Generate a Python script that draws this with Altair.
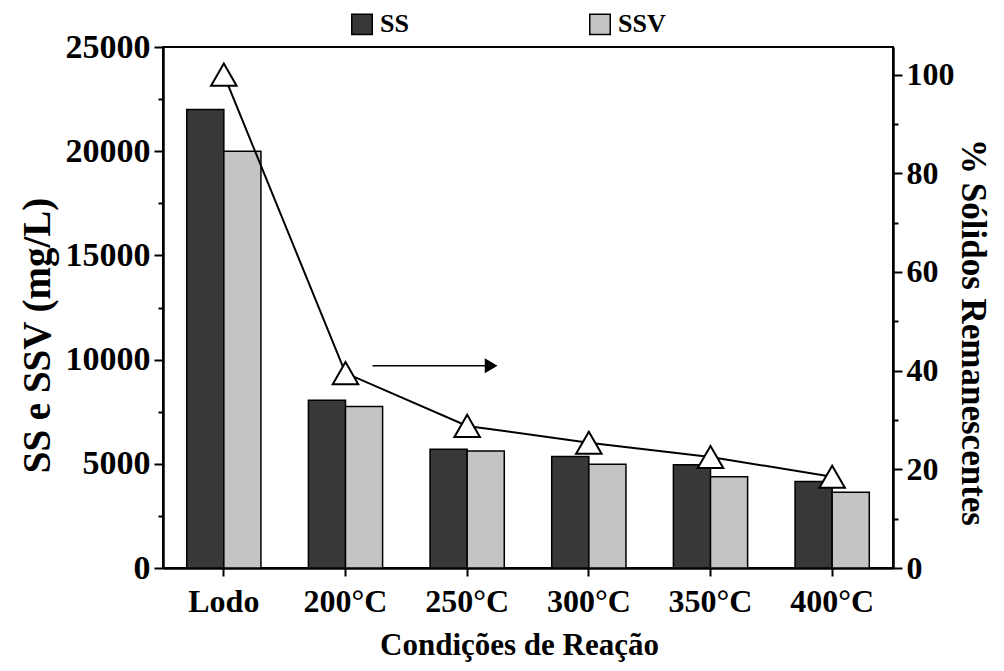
import altair as alt
import pandas as pd

# ---- data ----
categorias = ["Lodo", "200°C", "250°C", "300°C", "350°C", "400°C"]
series = ["SS", "SSV"]
ss = [22000, 8050, 5700, 5350, 4950, 4150]
ssv = [20000, 7750, 5620, 4980, 4380, 3640]
pct = [100, 39.5, 28.8, 25.4, 22.5, 18.5]
seta_ini = ["200°C"]
seta_fim = ["250°C"]
seta_nivel = [41]

bars_df = pd.DataFrame({
    "Condição": categorias * 2,
    "Série": [series[0]] * len(categorias) + [series[1]] * len(categorias),
    "Valor": ss + ssv,
})
line_df = pd.DataFrame({"Condição": categorias, "Pct": pct})
arrow_df = pd.DataFrame({"ini": seta_ini, "fim": seta_fim, "nivel": seta_nivel})

FONT = "Liberation Serif"

x_scale = alt.Scale(domain=categorias, paddingInner=0.39, paddingOuter=0.195)
x_axis = alt.Axis(
    title="Condições de Reação", labelAngle=0, tickSize=8, labelPadding=10,
    labelFontSize=32, titleFontSize=31, titleX=356, titleY=77,
    titleAlign="center", titleBaseline="middle", grid=False,
)

left_axis = alt.Axis(
    orient="left", values=list(range(0, 25001, 2500)),
    labelExpr="datum.value % 5000 === 0 ? datum.label : ''",
    format="d",
    tickSize={"condition": {"test": "datum.value % 5000 === 0", "value": 9}, "value": 5},
    labelPadding=4, labelFontSize=34,
    title="SS e SSV (mg/L)", titleFontSize=39, titleAngle=270,
    titleX=-126, titleY=288, titleAlign="center", titleBaseline="middle",
    grid=False,
)

right_axis = alt.Axis(
    orient="right", values=list(range(0, 101, 10)),
    labelExpr="datum.value % 20 === 0 ? datum.label : ''",
    tickSize={"condition": {"test": "datum.value % 20 === 0", "value": 9}, "value": 5},
    labelPadding=4, labelFontSize=32,
    title="% Sólidos Remanescentes", titleFontSize=35, titleAngle=90,
    titleX=79, titleY=285, titleAlign="center", titleBaseline="middle",
    grid=False,
)
right_scale = alt.Scale(domain=[0, 105.6], nice=False)

bars = alt.Chart(bars_df).mark_bar(stroke="black", strokeWidth=1.5).encode(
    x=alt.X("Condição:N", scale=x_scale, axis=x_axis),
    xOffset=alt.XOffset("Série:N", sort=series, scale=alt.Scale(paddingInner=0, paddingOuter=0)),
    y=alt.Y("Valor:Q", scale=alt.Scale(domain=[0, 25000], nice=False), axis=left_axis),
    color=alt.Color(
        "Série:N",
        scale=alt.Scale(domain=series, range=["#383838", "#c4c4c4"]),
        legend=alt.Legend(
            title=None, orient="none", legendX=186, legendY=-36,
            direction="horizontal", symbolType="square", symbolSize=420,
            symbolStrokeColor="black", symbolStrokeWidth=1.5, symbolOpacity=1,
            labelFontSize=26, labelFont=FONT, labelFontWeight="bold",
            labelColor="black", columnPadding=177, labelOffset=5,
        ),
    ),
)

line = alt.Chart(line_df).mark_line(color="black", strokeWidth=2).encode(
    x=alt.X("Condição:N", scale=x_scale, axis=x_axis),
    y=alt.Y("Pct:Q", scale=right_scale, axis=right_axis),
)

pts = alt.Chart(line_df).mark_point(
    shape="triangle-up", filled=True, fill="white", stroke="black",
    strokeWidth=2, size=650, opacity=1,
).encode(
    x=alt.X("Condição:N", scale=x_scale, axis=x_axis),
    y=alt.Y("Pct:Q", scale=right_scale, axis=right_axis),
)

arrow = alt.Chart(arrow_df).mark_rule(
    color="black", strokeWidth=1.5, xOffset=27, x2Offset=18,
).encode(
    x=alt.X("ini:N", scale=x_scale, axis=x_axis),
    x2="fim:N",
    y=alt.Y("nivel:Q", scale=right_scale, axis=right_axis),
)

head = alt.Chart(arrow_df).mark_point(
    shape="triangle-right", filled=True, color="black", size=220, opacity=1, xOffset=24,
).encode(
    x=alt.X("fim:N", scale=x_scale, axis=x_axis),
    y=alt.Y("nivel:Q", scale=right_scale, axis=right_axis),
)

chart = alt.layer(bars, alt.layer(line, pts, arrow, head)).resolve_scale(
    y="independent"
).properties(
    width=730, height=521,
    autosize=alt.AutoSizeParams(type="none"),
    padding={"left": 155, "top": 39, "right": 103, "bottom": 95},
    background="white",
).configure_view(
    stroke="black", strokeWidth=2,
).configure_axis(
    domainColor="black", domainWidth=2.5, tickColor="black", tickWidth=2,
    labelColor="black", titleColor="black",
    labelFont=FONT, titleFont=FONT, labelFontWeight="bold", titleFontWeight="bold",
)

chart.save("out.html", embed_options={"renderer": "svg", "actions": False})
